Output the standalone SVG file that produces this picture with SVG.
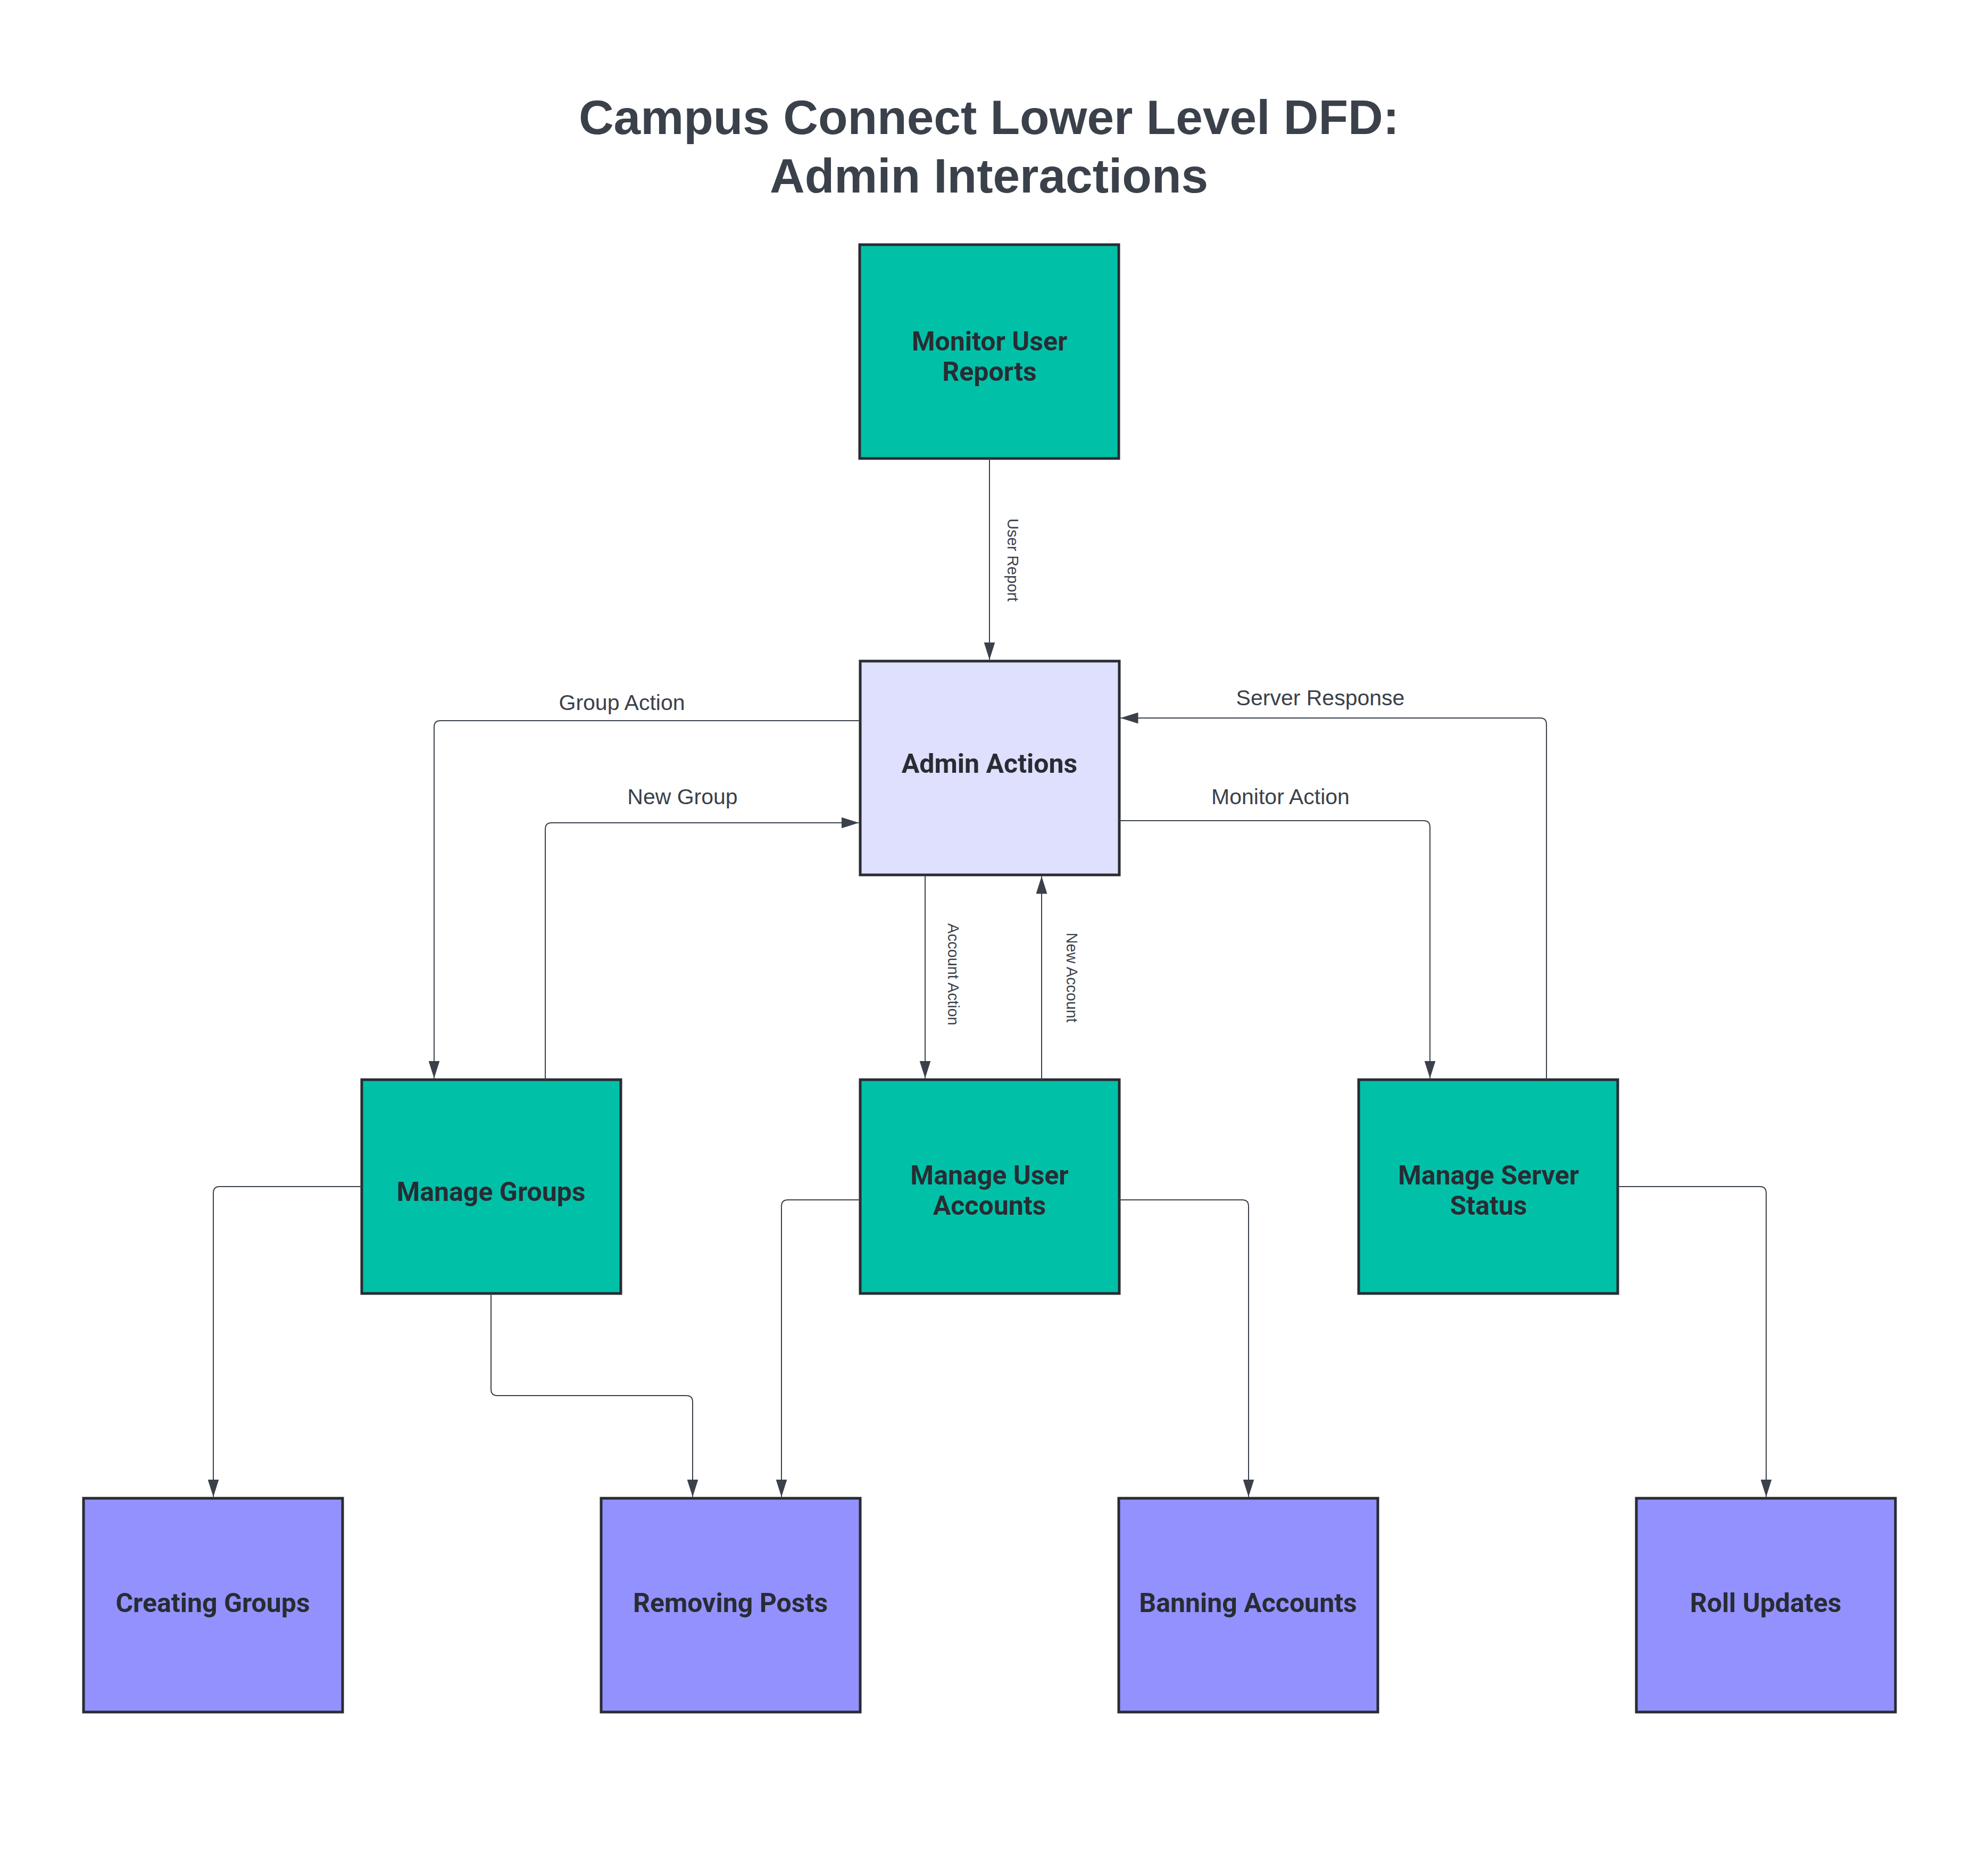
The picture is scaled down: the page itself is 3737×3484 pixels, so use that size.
<svg xmlns="http://www.w3.org/2000/svg" width="3737" height="3484" viewBox="0 0 3737 3484">
<style>
.title{font-family:"Liberation Sans",Arial,sans-serif;font-weight:700;font-size:91px;fill:#3a414a;text-anchor:middle}
.node rect{stroke:#282c33;stroke-width:5}
.teal{fill:#00c1a8}
.lav{fill:#dfdffe}
.pur{fill:#9391fd}
.nt{font-family:Roboto,"Liberation Sans",sans-serif;font-weight:700;font-size:50px;fill:#282c33;text-anchor:middle}
.conn path{fill:none;stroke:#3a414a;stroke-width:2;marker-end:url(#arr)}
.lbl{font-family:"Liberation Sans",Arial,sans-serif;font-size:41px;fill:#3a414a;text-anchor:middle}
.vlbl{font-family:"Liberation Sans",Arial,sans-serif;font-size:29px;fill:#3a414a;text-anchor:middle}
</style>
<defs>
<marker id="arr" viewBox="0 0 33 21" markerWidth="33" markerHeight="21" refX="33" refY="10.5" orient="auto" markerUnits="userSpaceOnUse">
<path d="M0,0 L33,10.5 L0,21 z" fill="#3a414a"/>
</marker>
</defs>
<rect width="3737" height="3484" fill="#ffffff"/>
<g id="title">
<text class="title" x="1859" y="252">Campus Connect Lower Level DFD:</text>
<text class="title" x="1859" y="362">Admin Interactions</text>
</g>
<g id="monitor-user-reports" class="node">
<rect class="teal" x="1616" y="460" width="487" height="402"/>
<text class="nt" x="1860" y="659">Monitor User</text>
<text class="nt" x="1860" y="716">Reports</text>
</g>
<g id="admin-actions" class="node">
<rect class="lav" x="1617" y="1243" width="487" height="402"/>
<text class="nt" x="1860" y="1453">Admin Actions</text>
</g>
<g id="manage-groups" class="node">
<rect class="teal" x="680" y="2030" width="487" height="402"/>
<text class="nt" x="923" y="2258">Manage Groups</text>
</g>
<g id="manage-user-accounts" class="node">
<rect class="teal" x="1617" y="2030" width="487" height="402"/>
<text class="nt" x="1860" y="2227">Manage User</text>
<text class="nt" x="1860" y="2284">Accounts</text>
</g>
<g id="manage-server-status" class="node">
<rect class="teal" x="2554" y="2030" width="487" height="402"/>
<text class="nt" x="2798" y="2227">Manage Server</text>
<text class="nt" x="2798" y="2284">Status</text>
</g>
<g id="creating-groups" class="node">
<rect class="pur" x="157" y="2817" width="487" height="402"/>
<text class="nt" x="400" y="3031">Creating Groups</text>
</g>
<g id="removing-posts" class="node">
<rect class="pur" x="1130" y="2817" width="487" height="402"/>
<text class="nt" x="1373" y="3031">Removing Posts</text>
</g>
<g id="banning-accounts" class="node">
<rect class="pur" x="2103" y="2817" width="487" height="402"/>
<text class="nt" x="2346" y="3031">Banning Accounts</text>
</g>
<g id="roll-updates" class="node">
<rect class="pur" x="3076" y="2817" width="487" height="402"/>
<text class="nt" x="3319" y="3031">Roll Updates</text>
</g>
<g id="connectors" class="conn">
<path d="M1860,862 V1240.5"/>
<path d="M1617,1355 H828 Q816,1355 816,1367 V2027.5"/>
<path d="M1025,2030 V1559 Q1025,1547 1037,1547 H1614.5"/>
<path d="M2907,2030 V1362 Q2907,1350 2895,1350 H2106.5"/>
<path d="M2104,1543 H2676 Q2688,1543 2688,1555 V2027.5"/>
<path d="M1739,1645 V2027.5"/>
<path d="M1958,2030 V1647.5"/>
<path d="M680,2231 H413 Q401,2231 401,2243 V2814.5"/>
<path d="M923,2432 V2612 Q923,2624 935,2624 H1290 Q1302,2624 1302,2636 V2814.5"/>
<path d="M1617,2256 H1481 Q1469,2256 1469,2268 V2814.5"/>
<path d="M2104,2256 H2335 Q2347,2256 2347,2268 V2814.5"/>
<path d="M3041,2231 H3308 Q3320,2231 3320,2243 V2814.5"/>
<text class="vlbl" transform="translate(1894,1053) rotate(90)">User Report</text>
<text class="lbl" x="1169" y="1335">Group Action</text>
<text class="lbl" x="1283" y="1512">New Group</text>
<text class="lbl" x="2482" y="1326">Server Response</text>
<text class="lbl" x="2407" y="1512">Monitor Action</text>
<text class="vlbl" transform="translate(1782,1832) rotate(90)">Account Action</text>
<text class="vlbl" transform="translate(2005,1838) rotate(90)">New Account</text>
</g>
</svg>
